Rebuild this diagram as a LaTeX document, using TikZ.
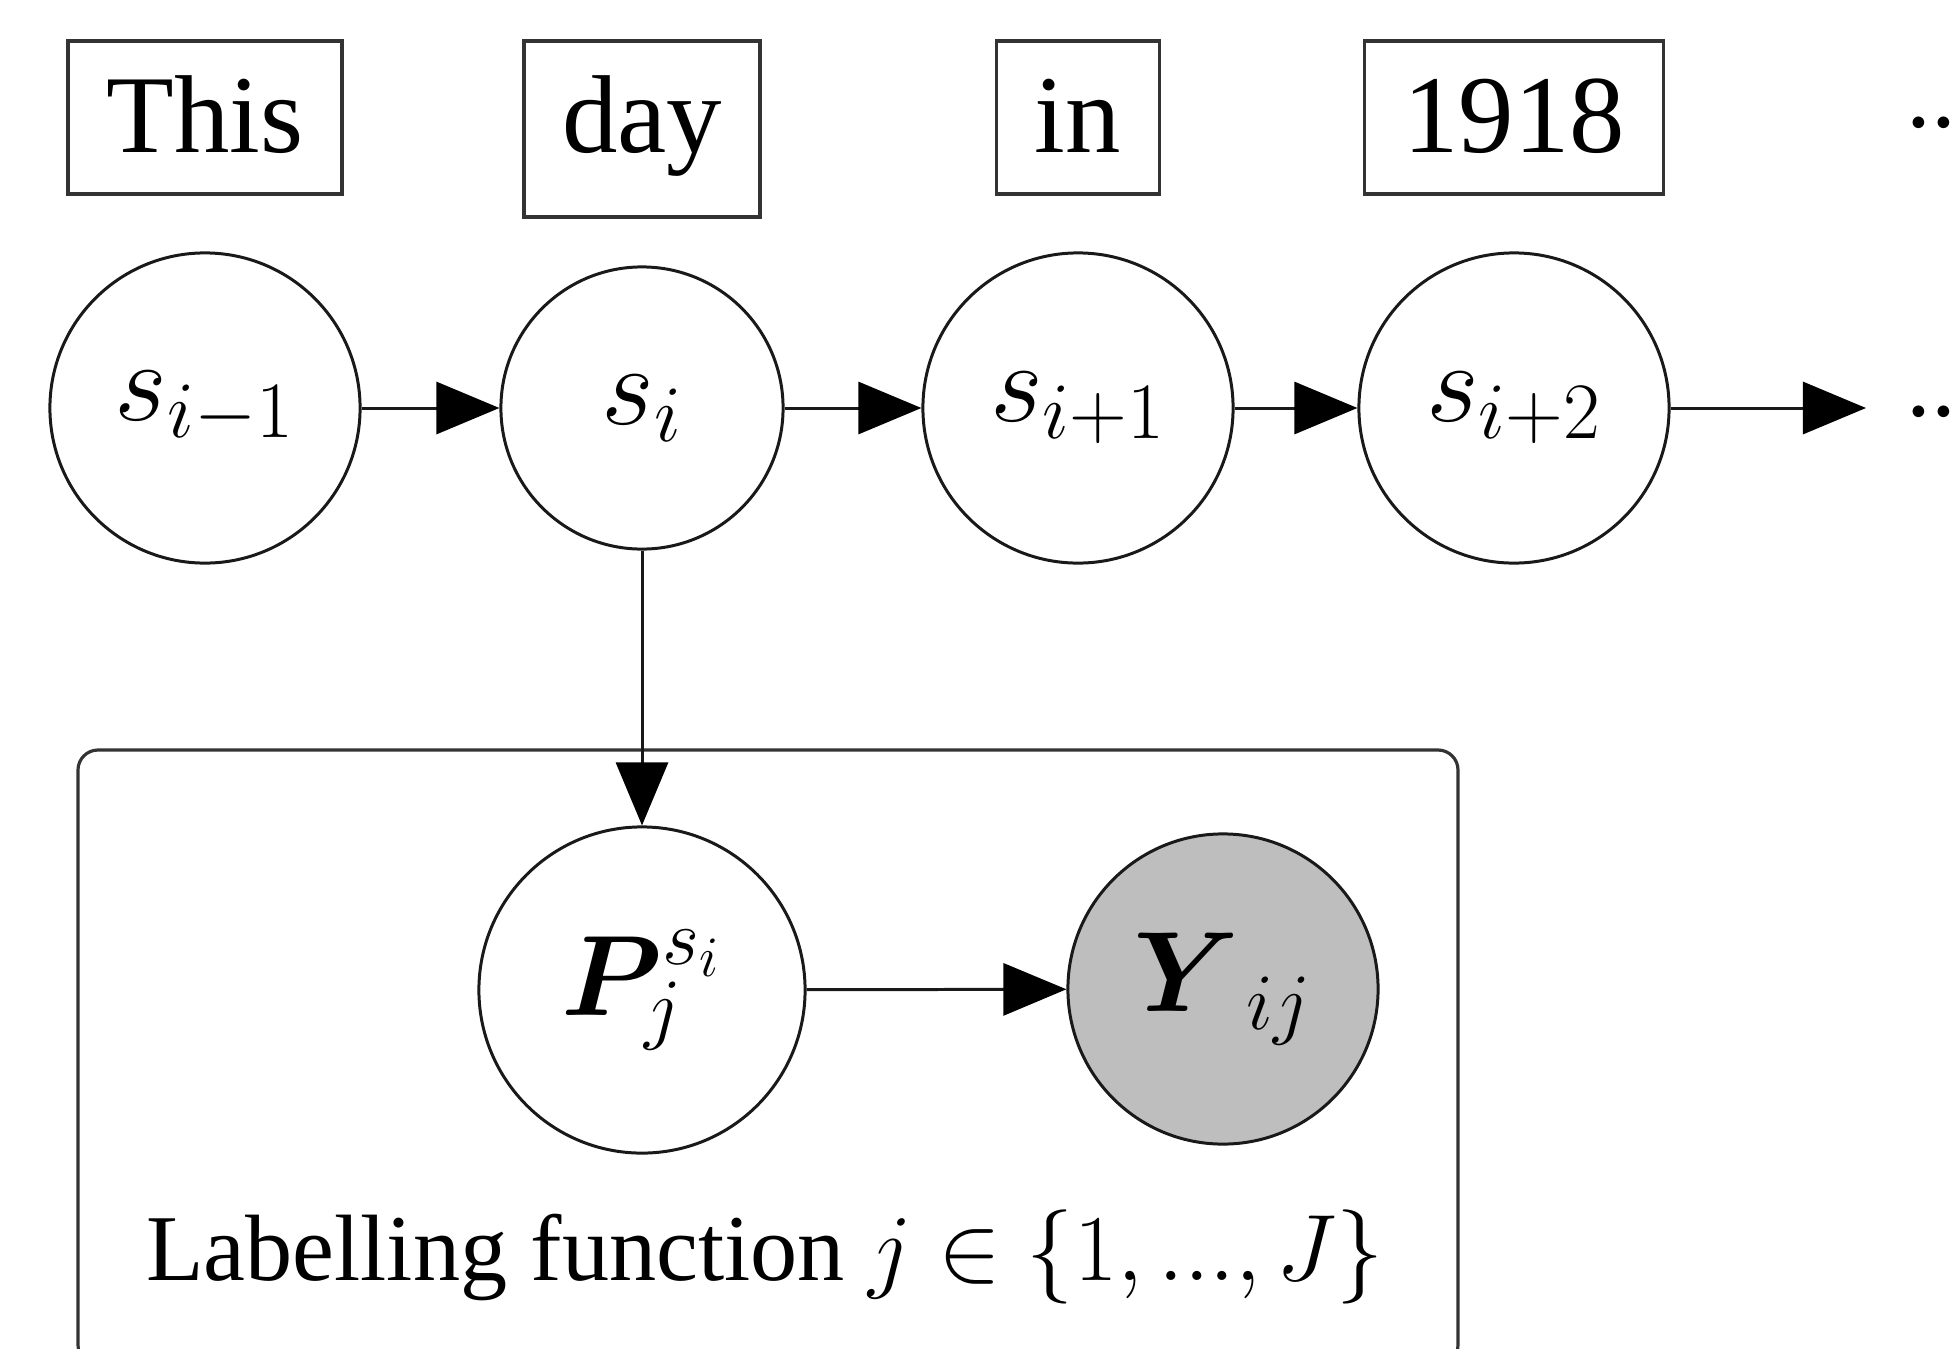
\RequirePackage{fix-cm}
\documentclass[tikz,border=0pt]{standalone}
\usepackage[no-math]{fontspec}
\setmainfont{Liberation Serif}
\usepackage{bm}
\usetikzlibrary{arrows.meta}
\definecolor{obsgray}{RGB}{190,190,190}
\begin{document}
\begin{tikzpicture}[x=0.01cm,y=-0.01cm,
  wordbox/.style={draw=black!80,line width=1pt,inner sep=0pt,text height=1.11cm,text depth=0.42cm,anchor=base,font=\fontsize{31.5}{36}\selectfont},
  var/.style={draw=black!90,line width=0.85pt,circle,inner sep=0pt,font=\fontsize{32.5}{38}\selectfont},
  edge/.style={draw=black!90,line width=0.85pt,-{Triangle[length=0.63cm,width=0.52cm,fill=black,color=black]}},
  plate/.style={draw=black!80,line width=0.9pt,rounded corners=0.2cm},
  dotsnode/.style={inner sep=0pt,anchor=base west,font=\fontsize{31.5}{36}\selectfont}
]
\useasboundingbox (0,0) rectangle (1951,1348);
\clip (0,0) rectangle (1951,1348);
% word boxes
\node[wordbox,minimum width=2.74cm] (w1) at (205,152) {This};
\node[wordbox,minimum width=2.36cm,text depth=0.65cm] (w2) at (642,152) {day};
\node[wordbox,minimum width=1.63cm] (w3) at (1078,152) {in};
\node[wordbox,minimum width=2.99cm] (w4) at (1514,152) {1918};
\node[dotsnode] (dtop) at (1903,150) {${\cdot}\mkern-1mu{\cdot}\mkern-1mu{\cdot}$};
% chain
\node[var,minimum size=3.10cm] (s0) at (205,408) {$s_{i-1}$};
\node[var,minimum size=2.82cm] (s1) at (642,408) {$s_i$};
\node[var,minimum size=3.10cm] (s2) at (1078,408) {$s_{i+1}$};
\node[var,minimum size=3.10cm] (s3) at (1514,408) {$s_{i+2}$};
\coordinate (dend) at (1866,408);
\node[dotsnode] (dbot) at (1903,439) {${\cdot}\mkern-1mu{\cdot}\mkern-1mu{\cdot}$};
% plate
\draw[plate] (78,750) rectangle (1458,1365);
\node[var,minimum size=3.26cm] (P) at (642,990) {$\bm{P}^{s_i}_j$};
\node[var,minimum size=3.10cm,fill=obsgray] (Y) at (1223,989) {${\bm{Y}\mkern1mu}_{ij}$};
\node[inner sep=0pt,anchor=base,font=\fontsize{26.8}{32}\selectfont] (lab) at (765,1280) {Labelling function $j \in \{1, ..., J\}$};
% edges
\draw[edge] (s0) -- (s1);
\draw[edge] (s1) -- (s2);
\draw[edge] (s2) -- (s3);
\draw[edge] (s3) -- (dend);
\draw[edge] (s1.south) -- (P.north);
\draw[edge] (P) -- (Y);
\end{tikzpicture}
\end{document}
